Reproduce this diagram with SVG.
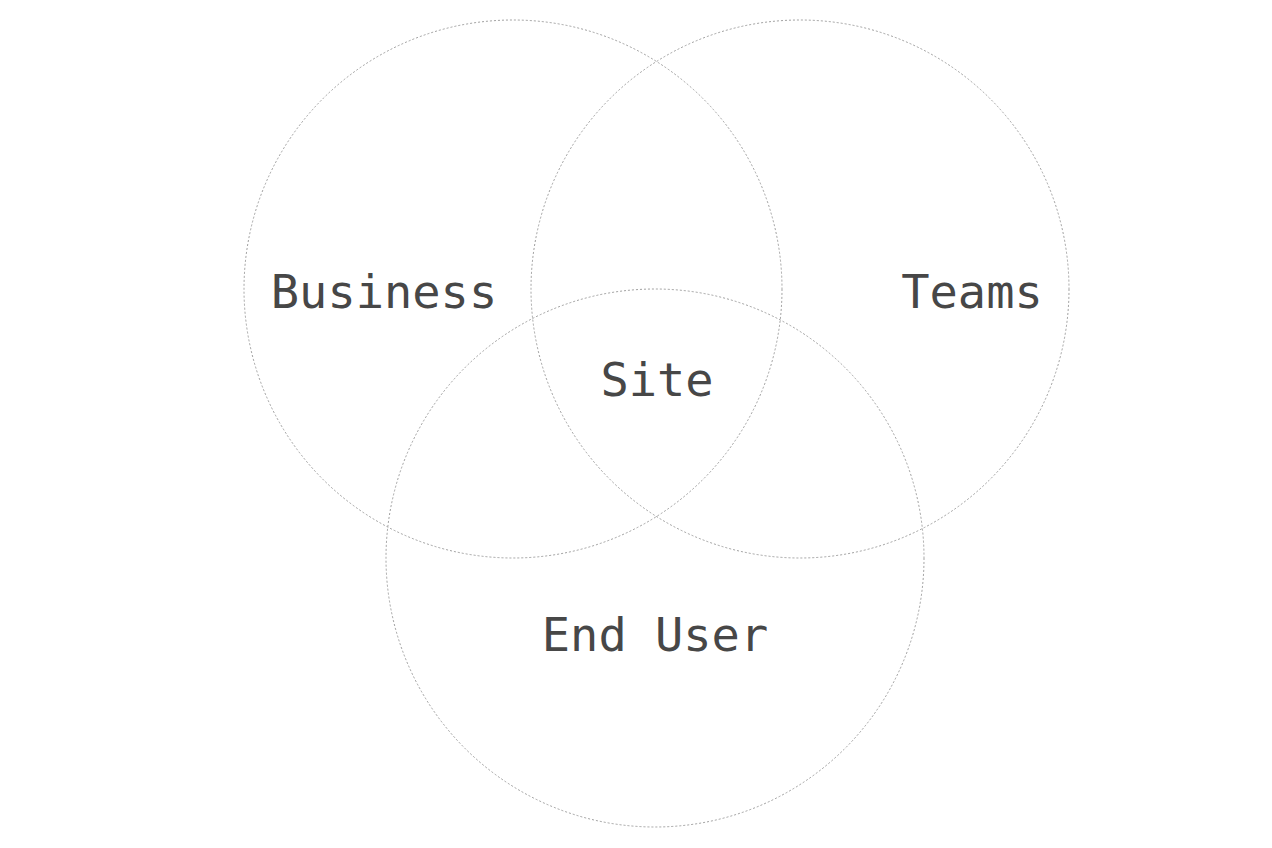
<svg xmlns="http://www.w3.org/2000/svg" width="1272" height="848" viewBox="0 0 1272 848">
<style>
.c{fill:none;stroke:#a0a0a0;stroke-width:1;stroke-dasharray:2 2}
.t{font-family:"DejaVu Sans Mono","Liberation Mono",monospace;font-size:47px;fill:#474747;text-anchor:middle}
</style>
<rect width="1272" height="848" fill="#fff"/>
<g id="business"><circle class="c" cx="513" cy="289" r="269"/><text class="t" x="384" y="308">Business</text></g>
<g id="teams"><circle class="c" cx="800" cy="289" r="269"/><text class="t" x="972" y="308">Teams</text></g>
<g id="enduser"><circle class="c" cx="655" cy="558" r="269"/><text class="t" x="655" y="651">End User</text></g>
<g id="site"><text class="t" x="657" y="396">Site</text></g>
<g id="connectors"></g>
</svg>
